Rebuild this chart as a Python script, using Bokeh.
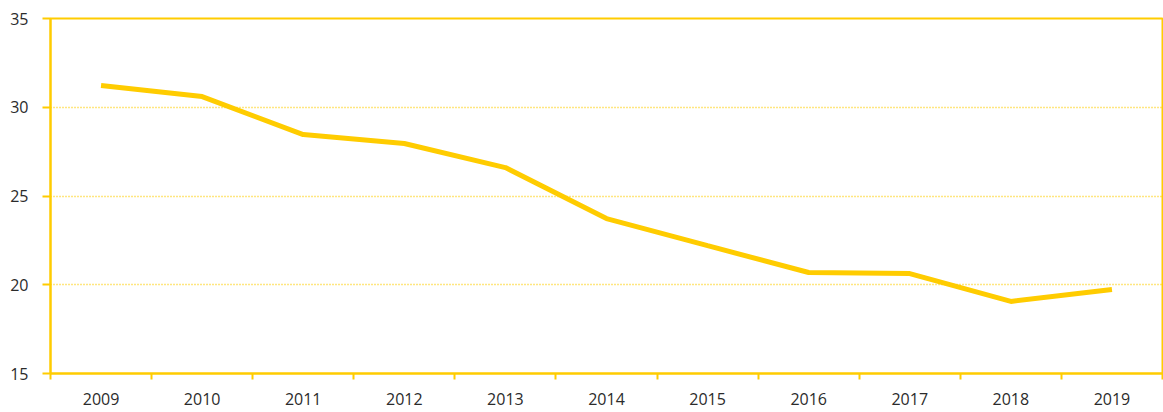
from bokeh.plotting import figure
from bokeh.models import FixedTicker, Range1d, ColumnDataSource
from bokeh.embed import file_html
from bokeh.resources import INLINE

years = ["2009", "2010", "2011", "2012", "2013", "2014", "2015", "2016", "2017", "2018", "2019"]
values = [31.23, 30.6, 28.46, 27.96, 26.6, 23.73, 22.2, 20.69, 20.63, 19.06, 19.73]
y_ticks = [15, 20, 25, 30, 35]

YEL = "#FFCC00"
FONT = "Open Sans"

idx = list(range(len(years)))
src = ColumnDataSource(data=dict(x=idx, y=values))

p = figure(width=1163, height=412, output_backend="svg", toolbar_location=None,
           x_range=Range1d(-0.5, len(years) - 0.5), y_range=Range1d(15, 35),
           min_border_left=50, min_border_right=1, min_border_top=18, min_border_bottom=39)

p.line("x", "y", source=src, line_color=YEL, line_width=5)

p.outline_line_color = YEL
p.outline_line_width = 2
p.background_fill_color = "white"
p.border_fill_color = "white"

xa = p.xaxis[0]
xa.ticker = FixedTicker(ticks=idx, minor_ticks=[i - 0.5 for i in range(len(years) + 1)])
xa.major_label_overrides = {i: y for i, y in enumerate(years)}
xa.major_tick_out = 0
xa.major_tick_in = 0
xa.minor_tick_out = 6
xa.minor_tick_in = 0
xa.minor_tick_line_color = YEL
xa.minor_tick_line_width = 2
xa.axis_line_color = YEL
xa.axis_line_width = 2
xa.major_label_text_font = FONT
xa.major_label_text_font_size = "16px"
xa.major_label_text_color = "#2b2b2b"
xa.major_label_standoff = 13

ya = p.yaxis[0]
ya.ticker = FixedTicker(ticks=y_ticks)
ya.major_tick_out = 8
ya.major_tick_in = 0
ya.major_tick_line_color = YEL
ya.major_tick_line_width = 2
ya.minor_tick_line_color = None
ya.axis_line_color = YEL
ya.axis_line_width = 2
ya.major_label_text_font = FONT
ya.major_label_text_font_size = "16px"
ya.major_label_text_color = "#2b2b2b"
ya.major_label_standoff = 14

p.xgrid.grid_line_color = None
p.ygrid.ticker = FixedTicker(ticks=[20, 25, 30])
p.ygrid.grid_line_color = YEL
p.ygrid.grid_line_width = 1.5
p.ygrid.grid_line_dash = "1 2"

open("out.html", "w").write(file_html(p, INLINE))
